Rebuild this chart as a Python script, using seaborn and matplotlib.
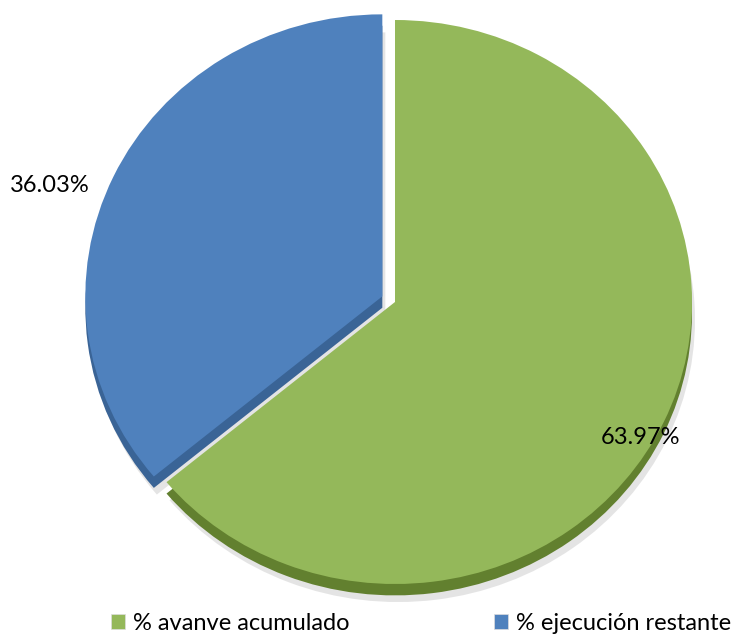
import seaborn as sns
import matplotlib.pyplot as plt
from matplotlib.patches import Patch

sns.set_theme(style="white")
plt.rcParams['font.family'] = ['Lato', 'DejaVu Sans']
plt.rcParams['text.color'] = 'black'

labels = ["% avanve acumulado", "% ejecución restante"]
values = [63.97, 36.03]
colors = ["#94B85A", "#4F81BD"]
dark = ["#62802F", "#3A6496"]

W, H = 751, 639
k = 297 / 282  # squash y a bit for the tilted look

fig = plt.figure(figsize=(W / 100, H / 100), dpi=100)
ax = fig.add_axes([0, 0, 1, 1])

cx, cy, r = 395, (H - 302) * k, 297
explode = [0, 14]

# soft shadow
ax.pie(values, colors=["#c4c4c4"] * 2, startangle=90, counterclock=False,
       explode=explode, radius=r, center=(cx + 3, cy - 19), frame=True,
       wedgeprops=dict(alpha=0.45, linewidth=0))
# darker side (3d look)
ax.pie(values, colors=dark, startangle=90, counterclock=False,
       explode=explode, radius=r, center=(cx, cy - 12), frame=True,
       wedgeprops=dict(linewidth=0))
wedges, _ = ax.pie(values, colors=colors, startangle=90, counterclock=False,
                   explode=explode, radius=r, center=(cx, cy), frame=True,
                   wedgeprops=dict(linewidth=0))
ax.set_aspect("auto")
ax.set_xlim(0, W)
ax.set_ylim(0, H * k)
ax.axis("off")

fig.text(640 / W, 1 - 437 / H, f"{values[0]:.2f}%", ha="center", va="center",
         fontsize=17, color="black")
fig.text(50 / W, 1 - 185 / H, f"{values[1]:.2f}%", ha="center", va="center",
         fontsize=17, color="black")

handles = [Patch(facecolor=c, edgecolor="#dddddd", linewidth=0.5) for c in colors]
fig.legend(handles, labels, loc="center", bbox_to_anchor=(421 / W, 1 - 623 / H),
           ncol=2, frameon=False, fontsize=17, handlelength=0.6, handleheight=0.6,
           handletextpad=0.35, columnspacing=6.1, borderpad=0, borderaxespad=0,
           labelcolor="black")

fig.savefig("out.png", dpi=100)
